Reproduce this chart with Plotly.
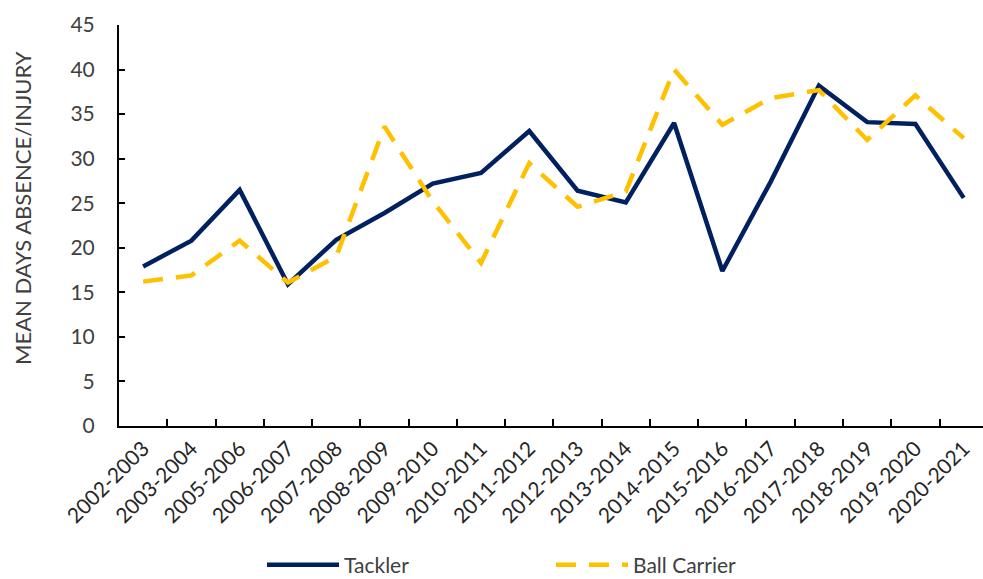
import plotly.graph_objects as go

seasons = ["2002-2003", "2003-2004", "2005-2006", "2006-2007", "2007-2008",
           "2008-2009", "2009-2010", "2010-2011", "2011-2012", "2012-2013",
           "2013-2014", "2014-2015", "2015-2016", "2016-2017", "2017-2018",
           "2018-2019", "2019-2020", "2020-2021"]
tackler = [17.9, 20.8, 26.5, 15.9, 20.9, 23.9, 27.2, 28.4, 33.1, 26.4,
           25.1, 34.0, 17.4, 27.4, 38.2, 34.1, 33.9, 25.6]
ball_carrier = [16.2, 16.9, 20.8, 16.1, 19.0, 33.6, 25.2, 18.3, 29.5, 24.6,
                26.3, 40.0, 33.8, 36.8, 37.7, 32.1, 37.1, 32.3]
y_ticks = [0, 5, 10, 15, 20, 25, 30, 35, 40, 45]

NAVY = "#002060"
GOLD = "#FFC000"
TEXT = "#404040"
FONT = "Lato"

W, H = 983, 579
L, T, B = 119, 25, 153
plot_w = W - L
plot_h = H - T - B

fig = go.Figure()
fig.add_trace(go.Scatter(
    x=seasons, y=tackler, name="Tackler", mode="lines",
    line=dict(color=NAVY, width=4.5),
))
fig.add_trace(go.Scatter(
    x=seasons, y=ball_carrier, name="Ball Carrier", mode="lines",
    line=dict(color=GOLD, width=4.5, dash="20px,13px"),
))

# Y-axis title placed as rotated text to the left of the tick labels
fig.add_annotation(
    text="MEAN DAYS ABSENCE/INJURY", textangle=-90,
    xref="paper", yref="paper",
    x=(22 - L) / plot_w, y=(H - B - 208) / plot_h,
    xanchor="center", yanchor="middle", showarrow=False,
    font=dict(family=FONT, size=22, color=TEXT),
)

fig.update_layout(
    width=W, height=H,
    margin=dict(l=L, r=0, t=T, b=B, autoexpand=False),
    paper_bgcolor="white", plot_bgcolor="white",
    font=dict(family=FONT, size=21, color=TEXT),
    showlegend=True,
    legend=dict(
        orientation="h", xref="paper", yref="paper",
        x=(262 - L) / plot_w, y=(H - B - 565) / plot_h,
        xanchor="left", yanchor="middle",
        itemwidth=72, entrywidth=202,
        font=dict(family=FONT, size=21, color=TEXT),
        bgcolor="rgba(0,0,0,0)",
    ),
    xaxis=dict(
        type="category", categoryorder="array", categoryarray=seasons,
        range=[-0.5, 17.4],
        showline=True, linecolor="black", linewidth=2,
        ticks="inside", ticklen=7, tickwidth=1.5, tickcolor="black",
        tickson="boundaries", tickangle=-45,
        showgrid=False, zeroline=False,
        tickfont=dict(family=FONT, size=21, color="#262626"),
    ),
    yaxis=dict(
        range=[0, 45], tickvals=y_ticks,
        showline=True, linecolor="black", linewidth=2,
        ticks="inside", ticklen=6, tickwidth=1.5, tickcolor="black",
        showgrid=False, zeroline=False,
        ticklabelstandoff=18,
        tickfont=dict(family=FONT, size=21, color=TEXT),
    ),
)

fig.write_html("out.html")
